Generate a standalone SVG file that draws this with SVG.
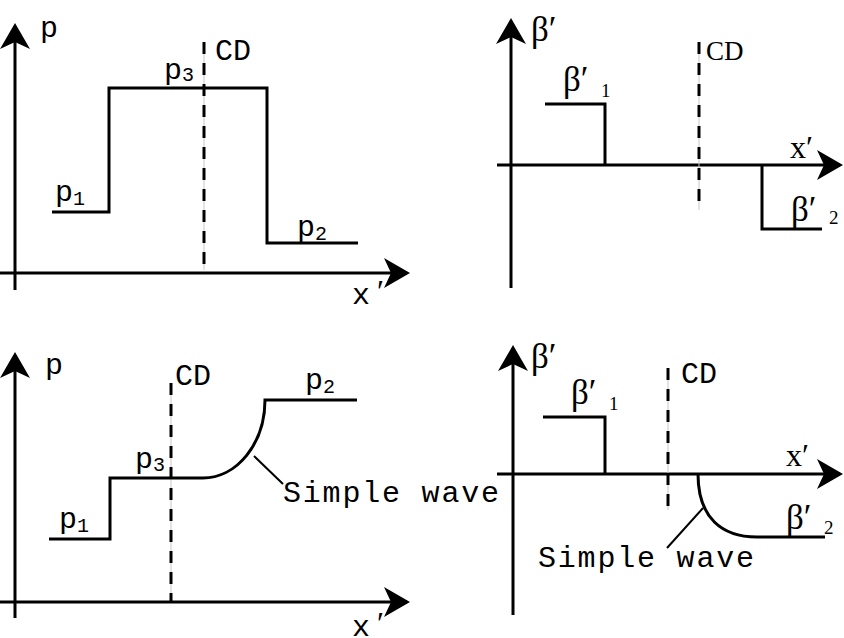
<svg xmlns="http://www.w3.org/2000/svg" width="844" height="638" viewBox="0 0 844 638">
<style>
  .ax{stroke:#000;stroke-width:3;fill:none;marker-end:url(#ah)}
  .ln{stroke:#000;stroke-width:3;fill:none;stroke-linejoin:miter}
  .cd{stroke:#000;stroke-width:3;fill:none;stroke-dasharray:12 9}
  .cdg{stroke:#c8c8c8;stroke-width:1;fill:none}
  .lead{stroke:#000;stroke-width:2;fill:none}
  .mono{font-family:"Liberation Mono","Courier New",monospace;font-size:30px;fill:#000}
  .serif{font-family:"Liberation Serif","Times New Roman",serif;font-size:32px;fill:#000}
  .big{font-size:35px}
  .cdt{font-size:27px}
  .pr{font-family:"Liberation Serif","Times New Roman",serif;font-size:32px}
  .sub{font-size:20px}
  .ssub{font-size:19px}
</style>
<defs>
  <marker id="ah" markerUnits="userSpaceOnUse" markerWidth="30" markerHeight="32" viewBox="-27 -16 28 32" refX="-3" refY="0" orient="auto">
    <path d="M0,0 L-26,-15 L-19,0 L-26,15 Z" fill="#000"/>
  </marker>
</defs>

<g id="panel-top-left">
  <line class="ax" x1="15" y1="290" x2="15" y2="26"/>
  <line class="ax" x1="0" y1="273" x2="407" y2="273"/>
  <line class="cdg" x1="204" y1="42" x2="204" y2="270"/>
  <line class="cd" x1="204" y1="42" x2="204" y2="270"/>
  <path class="ln" d="M52,212 H109 V88 H267 V243 H358"/>
  <text class="mono" x="40" y="37">p</text>
  <text class="mono" x="215" y="60">CD</text>
  <text class="mono" x="164" y="79">p<tspan class="sub" y="81">3</tspan></text>
  <text class="mono" x="55" y="201">p<tspan class="sub" y="205">1</tspan></text>
  <text class="mono" x="297" y="236">p<tspan class="sub" y="240">2</tspan></text>
  <text class="mono" x="352" y="304">x<tspan class="pr" x="377" y="302">′</tspan></text>
</g>

<g id="panel-top-right">
  <line class="ax" x1="511" y1="288" x2="511" y2="21"/>
  <line class="ax" x1="497" y1="165" x2="840" y2="165"/>
  <line class="cdg" x1="699" y1="42" x2="699" y2="210"/>
  <line class="cd" x1="699" y1="42" x2="699" y2="210"/>
  <path class="ln" d="M545,104 H605 V165"/>
  <path class="ln" d="M762,165 V229 H822"/>
  <text class="serif big" x="531" y="41">β′</text>
  <text class="serif cdt" x="706" y="60">CD</text>
  <text class="serif big" x="563" y="91">β′<tspan class="ssub" x="601" y="97">1</tspan></text>
  <text class="serif" x="790" y="158">x′</text>
  <text class="serif big" x="791" y="221">β′<tspan class="ssub" x="829" y="224">2</tspan></text>
</g>

<g id="panel-bottom-left">
  <line class="ax" x1="15" y1="618" x2="15" y2="355"/>
  <line class="ax" x1="0" y1="602" x2="407" y2="602"/>
  <line class="cdg" x1="171" y1="383" x2="171" y2="602"/>
  <line class="cd" x1="171" y1="383" x2="171" y2="602"/>
  <path class="ln" d="M49,539 H110 V478 H203 A62,78 0 0 0 265,400 H357"/>
  <line class="lead" x1="254" y1="456" x2="283" y2="484"/>
  <text class="mono" x="45" y="374">p</text>
  <text class="mono" x="175" y="385">CD</text>
  <text class="mono" x="135" y="468">p<tspan class="sub" y="471">3</tspan></text>
  <text class="mono" x="59" y="528">p<tspan class="sub" y="532">1</tspan></text>
  <text class="mono" x="305" y="389">p<tspan class="sub" y="393">2</tspan></text>
  <text class="mono" x="283" y="502" letter-spacing="1.8">Simple wave</text>
  <text class="mono" x="352" y="636">x<tspan class="pr" x="377" y="634">′</tspan></text>
</g>

<g id="panel-bottom-right">
  <line class="ax" x1="513" y1="615" x2="513" y2="348"/>
  <line class="ax" x1="497" y1="474" x2="840" y2="474"/>
  <line class="cdg" x1="668" y1="368" x2="668" y2="510"/>
  <line class="cd" x1="668" y1="368" x2="668" y2="510"/>
  <path class="ln" d="M543,417 H605 V474"/>
  <path class="ln" d="M698,474 C698,518 722,537 757,537 H825"/>
  <line class="lead" x1="703" y1="508" x2="667" y2="548"/>
  <text class="serif big" x="531" y="368">β′</text>
  <text class="mono" x="681" y="383">CD</text>
  <text class="serif big" x="571" y="404">β′<tspan class="ssub" x="609" y="410">1</tspan></text>
  <text class="serif" x="786" y="466">x′</text>
  <text class="serif big" x="786" y="529">β′<tspan class="ssub" x="824" y="534">2</tspan></text>
  <text class="mono" x="538" y="567" letter-spacing="1.8">Simple wave</text>
</g>
</svg>
